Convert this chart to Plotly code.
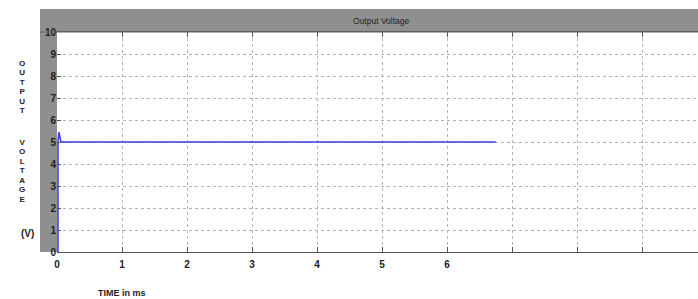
import plotly.graph_objects as go

# ---- data ----
time_ms = [0.015, 0.015, 0.03, 0.06, 0.09, 6.75]
voltage = [0.0, 5.0, 5.45, 5.02, 5.0, 5.0]

x_tick_vals = [0, 1, 2, 3, 4, 5, 6, 7, 8, 9]
x_tick_text = ["0", "1", "2", "3", "4", "5", "6", "", "", ""]
y_tick_vals = [0, 1, 2, 3, 4, 5, 6, 7, 8, 9, 10]
y_tick_text = ["0", "1", "2", "3", "4", "5", "6", "7", "8", "9", "10"]

title_text = "Output Voltage"
x_title = "TIME in ms"
y_title_words = ["OUTPUT", "VOLTAGE", "(V)"]

W, H = 698, 299
L, R, T, B = 57, 0, 32, 47
PW, PH = W - L - R, H - T - B

def px_x(p):
    return (p - L) / PW

def px_y(p):
    return (H - B - p) / PH

fig = go.Figure()
fig.add_trace(go.Scatter(x=time_ms, y=voltage, mode="lines",
                         line=dict(color="#3b3be0", width=1.6),
                         hoverinfo="skip", showlegend=False))

grey = "#8f8f8f"
shapes = [
    dict(type="rect", xref="paper", yref="paper", x0=px_x(40), x1=1.0,
         y0=1.0, y1=px_y(9), fillcolor=grey, line=dict(width=0), layer="below"),
    dict(type="rect", xref="paper", yref="paper", x0=px_x(40), x1=0.0,
         y0=0.0, y1=1.0, fillcolor=grey, line=dict(width=0), layer="below"),
    dict(type="line", xref="paper", yref="paper", x0=px_x(40), x1=1.0,
         y0=1.0, y1=1.0, line=dict(color="#666666", width=1)),
]

def ann(text, x, y, size, family="Liberation Sans", color="#222222", **kw):
    d = dict(text=text, xref="paper", yref="paper", x=px_x(x), y=px_y(y),
             xanchor="center", yanchor="middle", showarrow=False,
             font=dict(family=family, size=size, color=color))
    d.update(kw)
    return d

def stacked(word, px=8):
    return "<b>" + "<br>".join("<span style='font-size:%dpx'>%s</span>" % (px, c) for c in word) + "</b>"

annotations = [
    ann(title_text, 381, 21, 8.5, family="Liberation Sans Narrow, Liberation Sans"),
    ann("<b>" + x_title + "</b>", 122, 293, 9),
    ann(stacked(y_title_words[0]), 22, 86.5, 7.3, borderpad=0),
    ann(stacked(y_title_words[1]), 22, 170.5, 7.3, borderpad=0),
    ann("<b>" + y_title_words[2] + "</b>", 27, 233, 10),
]

fig.update_layout(
    width=W, height=H,
    margin=dict(l=L, r=R, t=T, b=B, pad=0),
    paper_bgcolor="white", plot_bgcolor="white",
    shapes=shapes, annotations=annotations,
    xaxis=dict(range=[0, PW / 65.0], tickvals=x_tick_vals, ticktext=x_tick_text,
               showgrid=True, gridcolor="#b4b4b4", griddash="dot", gridwidth=1,
               ticks="inside", ticklen=5, tickcolor="#555555", mirror="ticks",
               showline=True, linecolor="#555555", linewidth=1,
               zeroline=False, ticklabelstandoff=3,
               tickfont=dict(family="Liberation Sans", size=10, color="#222222", weight="bold")),
    yaxis=dict(range=[0, 10], tickvals=y_tick_vals, ticktext=y_tick_text,
               showgrid=True, gridcolor="#b4b4b4", griddash="dot", gridwidth=1,
               ticks="inside", ticklen=4, tickcolor="#555555",
               showline=False, zeroline=False, ticklabelstandoff=0,
               tickfont=dict(family="Liberation Sans", size=10, color="#222222", weight="bold")),
)

fig.write_html("out.html", config={"displayModeBar": False},
               post_script="document.body.style.margin='0';document.body.style.overflow='hidden';")
